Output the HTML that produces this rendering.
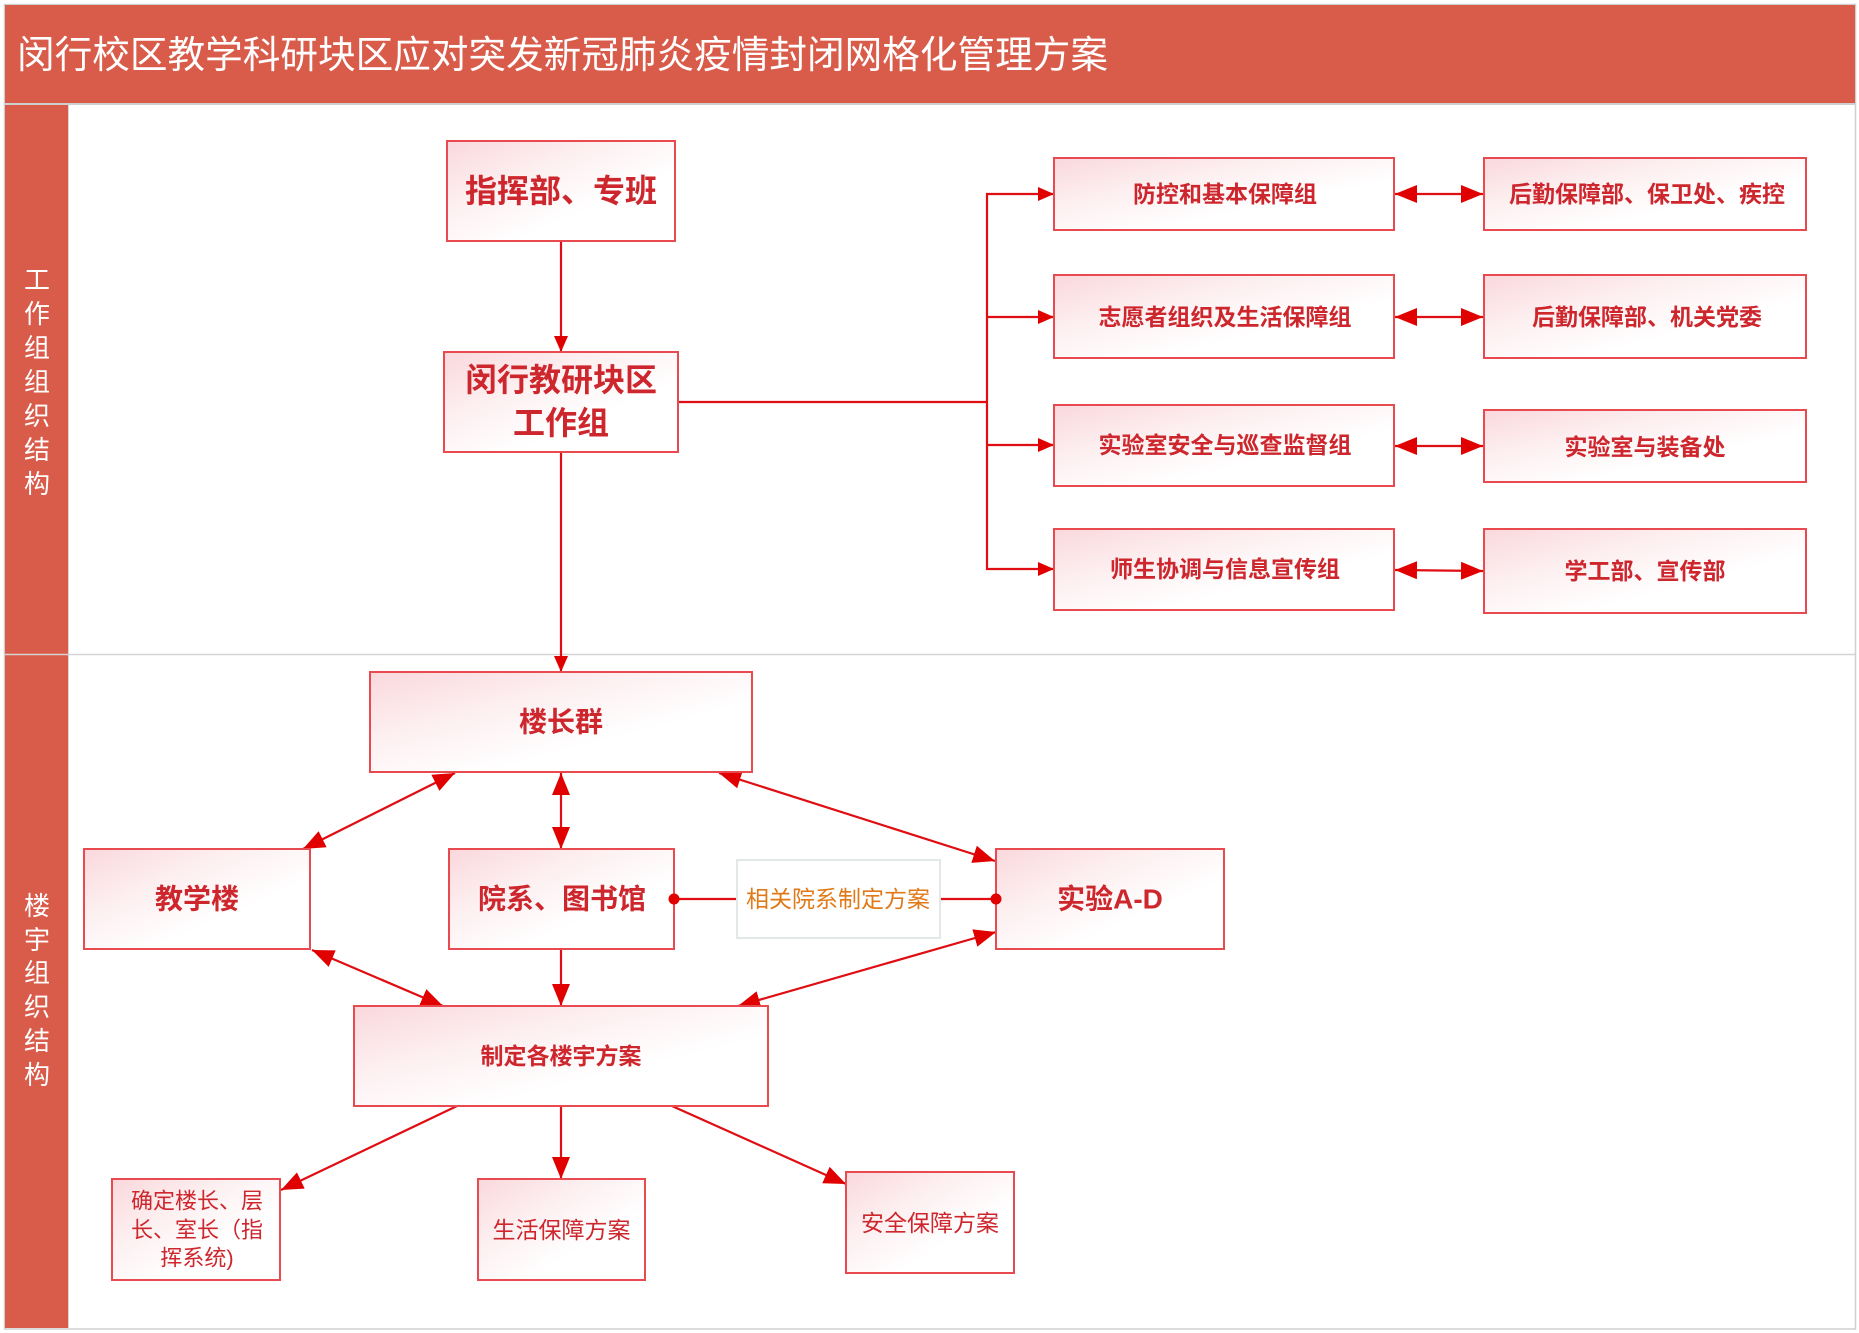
<!DOCTYPE html>
<html><head><meta charset="utf-8">
<style>
html,body{margin:0;padding:0;background:#fff;}
svg{display:block;}
text{font-family:"Liberation Sans","Noto Sans CJK SC",sans-serif;}
.bt{fill:#cd262d;font-weight:bold;text-anchor:middle;dominant-baseline:central;}
.nt{fill:#cd262d;font-weight:normal;text-anchor:middle;dominant-baseline:central;}
.vl{fill:#fff;font-size:26px;text-anchor:middle;dominant-baseline:central;}
.box{fill:url(#g);stroke:#e84a4f;stroke-width:2;}
.ln{stroke:#e00d12;stroke-width:2.2;fill:none;}
</style></head>
<body>
<svg width="1859" height="1333" viewBox="0 0 1859 1333" xmlns="http://www.w3.org/2000/svg">
<defs>
<linearGradient id="g" x1="0" y1="0" x2="1" y2="1">
<stop offset="0" stop-color="#fad8dc"/>
<stop offset="0.35" stop-color="#fdf0f1"/>
<stop offset="0.65" stop-color="#ffffff"/>
<stop offset="1" stop-color="#ffffff"/>
</linearGradient>
<marker id="as" viewBox="0 0 16 14" refX="16" refY="7" markerWidth="16" markerHeight="14" markerUnits="userSpaceOnUse" orient="auto-start-reverse">
<path d="M0,0 L16,7 L0,14 z" fill="#e00000"/>
</marker>
<marker id="al" viewBox="0 0 22 18" refX="22" refY="9" markerWidth="22" markerHeight="18" markerUnits="userSpaceOnUse" orient="auto-start-reverse">
<path d="M0,0 L22,9 L0,18 z" fill="#e00000"/>
</marker>
</defs>

<!-- frame -->
<rect x="4.5" y="4.5" width="1851" height="1324.5" fill="#fff" stroke="#cfcfcf" stroke-width="1.5"/>
<rect x="5" y="5" width="1850" height="98" fill="#d95b4a"/>
<line x1="5" y1="104" x2="1855" y2="104" stroke="#cfcfcf" stroke-width="2"/>
<rect x="5" y="105" width="63" height="1223" fill="#d95b4a"/>
<line x1="68.5" y1="105" x2="68.5" y2="1328" stroke="#d8d8d8" stroke-width="1"/>
<line x1="5" y1="654.5" x2="1855" y2="654.5" stroke="#d4d4d4" stroke-width="1.5"/>

<text x="17" y="56" fill="#fff" font-size="38" dominant-baseline="central" textLength="1091" lengthAdjust="spacingAndGlyphs">闵行校区教学科研块区应对突发新冠肺炎疫情封闭网格化管理方案</text>

<!-- vertical labels -->
<text class="vl" x="37" y="280">工</text>
<text class="vl" x="37" y="314">作</text>
<text class="vl" x="37" y="348">组</text>
<text class="vl" x="37" y="382">组</text>
<text class="vl" x="37" y="416">织</text>
<text class="vl" x="37" y="450">结</text>
<text class="vl" x="37" y="484">构</text>

<text class="vl" x="37" y="906">楼</text>
<text class="vl" x="37" y="940">宇</text>
<text class="vl" x="37" y="973">组</text>
<text class="vl" x="37" y="1007">织</text>
<text class="vl" x="37" y="1041">结</text>
<text class="vl" x="37" y="1075">构</text>

<!-- connectors top -->
<line class="ln" x1="561" y1="241" x2="561" y2="352" marker-end="url(#as)"/>
<line class="ln" x1="561" y1="452" x2="561" y2="672" marker-end="url(#as)"/>
<line class="ln" x1="678" y1="402" x2="988" y2="402" stroke-width="2.6"/>
<line class="ln" x1="987" y1="193" x2="987" y2="570"/>
<line class="ln" x1="986" y1="194" x2="1054" y2="194" marker-end="url(#as)"/>
<line class="ln" x1="986" y1="317" x2="1054" y2="317" marker-end="url(#as)"/>
<line class="ln" x1="986" y1="445" x2="1054" y2="445" marker-end="url(#as)"/>
<line class="ln" x1="986" y1="569" x2="1054" y2="569" marker-end="url(#as)"/>

<line class="ln" x1="1395" y1="194" x2="1483" y2="194" marker-start="url(#al)" marker-end="url(#al)"/>
<line class="ln" x1="1395" y1="317" x2="1483" y2="317" marker-start="url(#al)" marker-end="url(#al)"/>
<line class="ln" x1="1395" y1="446" x2="1483" y2="446" marker-start="url(#al)" marker-end="url(#al)"/>
<line class="ln" x1="1395" y1="570" x2="1483" y2="571" marker-start="url(#al)" marker-end="url(#al)"/>

<!-- connectors bottom -->
<line class="ln" x1="455" y1="773" x2="303" y2="849" marker-start="url(#al)" marker-end="url(#al)"/>
<line class="ln" x1="561" y1="773" x2="561" y2="849" marker-start="url(#al)" marker-end="url(#al)"/>
<line class="ln" x1="719" y1="773" x2="995" y2="861" marker-start="url(#al)" marker-end="url(#al)"/>
<line class="ln" x1="312" y1="950" x2="443" y2="1006" marker-start="url(#al)" marker-end="url(#al)"/>
<line class="ln" x1="561" y1="949" x2="561" y2="1006" marker-end="url(#al)"/>
<line class="ln" x1="996" y1="932" x2="738" y2="1006" marker-start="url(#al)" marker-end="url(#al)"/>
<line class="ln" x1="674" y1="899" x2="737" y2="899"/>
<line class="ln" x1="940" y1="899" x2="996" y2="899"/>
<line class="ln" x1="457" y1="1106" x2="281" y2="1190" marker-end="url(#al)"/>
<line class="ln" x1="561" y1="1106" x2="561" y2="1179" marker-end="url(#al)"/>
<line class="ln" x1="672" y1="1106" x2="846" y2="1184" marker-end="url(#al)"/>

<!-- boxes top -->
<rect class="box" x="447" y="141" width="228" height="100"/>
<text class="bt" x="561" y="191" font-size="32">指挥部、专班</text>

<rect class="box" x="444" y="352" width="234" height="100"/>
<text class="bt" x="561" y="380" font-size="32">闵行教研块区</text>
<text class="bt" x="561" y="423" font-size="32">工作组</text>

<rect class="box" x="1054" y="158" width="340" height="72"/>
<text class="bt" x="1225" y="194" font-size="23">防控和基本保障组</text>
<rect class="box" x="1054" y="275" width="340" height="83"/>
<text class="bt" x="1225" y="317" font-size="23">志愿者组织及生活保障组</text>
<rect class="box" x="1054" y="405" width="340" height="81"/>
<text class="bt" x="1225" y="445" font-size="23">实验室安全与巡查监督组</text>
<rect class="box" x="1054" y="529" width="340" height="81"/>
<text class="bt" x="1225" y="569" font-size="23">师生协调与信息宣传组</text>

<rect class="box" x="1484" y="158" width="322" height="72"/>
<text class="bt" x="1647" y="194" font-size="23">后勤保障部、保卫处、疾控</text>
<rect class="box" x="1484" y="275" width="322" height="83"/>
<text class="bt" x="1647" y="317" font-size="23">后勤保障部、机关党委</text>
<rect class="box" x="1484" y="410" width="322" height="72"/>
<text class="bt" x="1645" y="447" font-size="23">实验室与装备处</text>
<rect class="box" x="1484" y="529" width="322" height="84"/>
<text class="bt" x="1645" y="571" font-size="23">学工部、宣传部</text>

<!-- boxes bottom -->
<rect class="box" x="370" y="672" width="382" height="100"/>
<text class="bt" x="561" y="722" font-size="28">楼长群</text>

<rect class="box" x="84" y="849" width="226" height="100"/>
<text class="bt" x="197" y="899" font-size="28">教学楼</text>

<rect class="box" x="449" y="849" width="225" height="100"/>
<text class="bt" x="562" y="899" font-size="28">院系、图书馆</text>

<rect x="737" y="860" width="203" height="78" fill="#fff" stroke="#e2e8e8" stroke-width="2"/>
<text x="838" y="899" font-size="23" fill="#e07a18" text-anchor="middle" dominant-baseline="central">相关院系制定方案</text>

<rect class="box" x="996" y="849" width="228" height="100"/>
<text class="bt" x="1110" y="899" font-size="28">实验A-D</text>

<circle cx="674" cy="899" r="5.5" fill="#e00000"/>
<circle cx="996" cy="899" r="5.5" fill="#e00000"/>

<rect class="box" x="354" y="1006" width="414" height="100"/>
<text class="bt" x="561" y="1056" font-size="23">制定各楼宇方案</text>

<rect class="box" x="112" y="1179" width="168" height="101"/>
<text class="nt" x="197" y="1201" font-size="22">确定楼长、层</text>
<text class="nt" x="197" y="1230" font-size="22">长、室长（指</text>
<text class="nt" x="197" y="1258" font-size="22">挥系统)</text>

<rect class="box" x="478" y="1179" width="167" height="101"/>
<text class="nt" x="561.5" y="1230" font-size="23">生活保障方案</text>

<rect class="box" x="846" y="1172" width="168" height="101"/>
<text class="nt" x="930" y="1223" font-size="23">安全保障方案</text>
</svg>
</body></html>
